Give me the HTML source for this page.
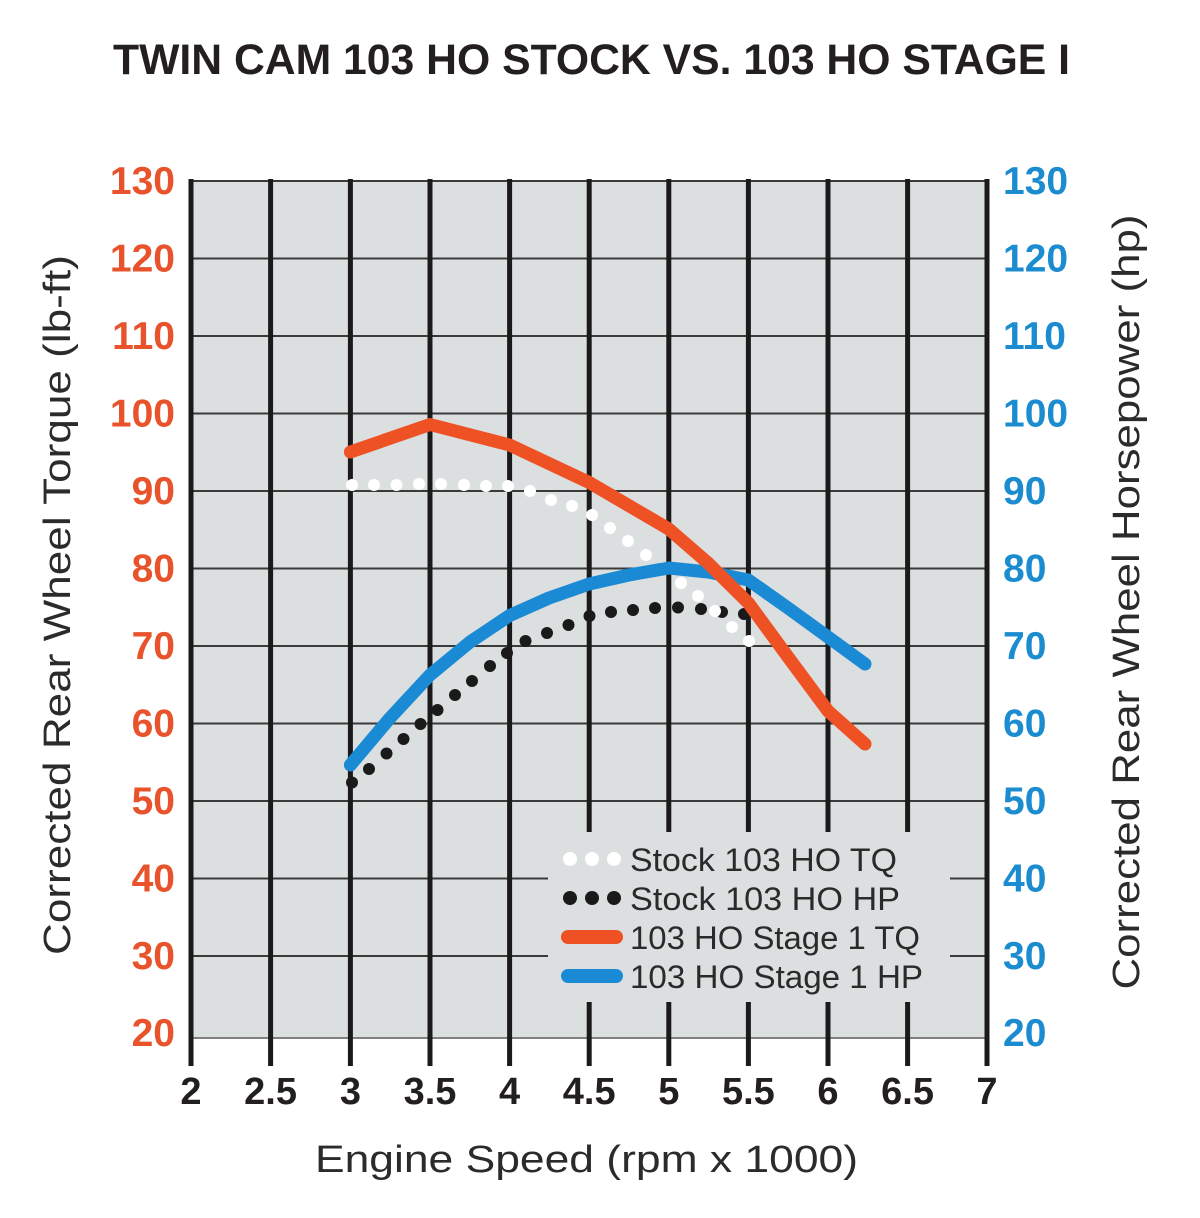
<!DOCTYPE html>
<html>
<head>
<meta charset="utf-8">
<style>
  html, body { margin: 0; padding: 0; background: #ffffff; }
  svg { display: block; }
  text { font-family: "Liberation Sans", "DejaVu Sans", sans-serif; }
</style>
</head>
<body>
<svg width="1200" height="1218" viewBox="0 0 1200 1218" xmlns="http://www.w3.org/2000/svg">
  <rect x="0" y="0" width="1200" height="1218" fill="#ffffff"/>

  <!-- Title -->
  <text x="113" y="74" font-size="43" font-weight="bold" fill="#231f20" textLength="957" lengthAdjust="spacingAndGlyphs">TWIN CAM 103 HO STOCK VS. 103 HO STAGE I</text>

  <!-- Plot background -->
  <rect x="191" y="181" width="796" height="857" fill="#dcdfe0"/>

  <!-- Horizontal grid lines -->
  <g stroke="#3a3a3a" stroke-width="2">
    <line x1="191" y1="181" x2="987" y2="181"/>
    <line x1="191" y1="258.5" x2="987" y2="258.5"/>
    <line x1="191" y1="336" x2="987" y2="336"/>
    <line x1="191" y1="413.5" x2="987" y2="413.5"/>
    <line x1="191" y1="491" x2="987" y2="491"/>
    <line x1="191" y1="568.5" x2="987" y2="568.5"/>
    <line x1="191" y1="646" x2="987" y2="646"/>
    <line x1="191" y1="723.5" x2="987" y2="723.5"/>
    <line x1="191" y1="801" x2="987" y2="801"/>
    <line x1="191" y1="878.5" x2="987" y2="878.5"/>
    <line x1="191" y1="956" x2="987" y2="956"/>
  </g>
  <line x1="191" y1="1038" x2="987" y2="1038" stroke="#808080" stroke-width="2"/>

  <!-- Vertical grid lines -->
  <g stroke="#1a1a1a" stroke-width="5">
    <line x1="191" y1="179" x2="191" y2="1066"/>
    <line x1="270.6" y1="179" x2="270.6" y2="1066"/>
    <line x1="350.4" y1="179" x2="350.4" y2="1066"/>
    <line x1="430" y1="179" x2="430" y2="1066"/>
    <line x1="509.6" y1="179" x2="509.6" y2="1066"/>
    <line x1="589.2" y1="179" x2="589.2" y2="1066"/>
    <line x1="668.8" y1="179" x2="668.8" y2="1066"/>
    <line x1="748.4" y1="179" x2="748.4" y2="1066"/>
    <line x1="828" y1="179" x2="828" y2="1066"/>
    <line x1="907.6" y1="179" x2="907.6" y2="1066"/>
    <line x1="987" y1="179" x2="987" y2="1066"/>
  </g>

  <!-- Legend box (covers grid) -->
  <rect x="548" y="832" width="402" height="170" fill="#dcdfe0"/>

  <!-- Stock HP (black dots) -->
  <g fill="#1a1a1a">
    <circle cx="352" cy="782.5" r="6"/>
    <circle cx="369" cy="769" r="6"/>
    <circle cx="386.5" cy="753.5" r="6"/>
    <circle cx="403.5" cy="739" r="6"/>
    <circle cx="420.5" cy="724" r="6"/>
    <circle cx="437.5" cy="710" r="6"/>
    <circle cx="455" cy="695" r="6"/>
    <circle cx="472" cy="681" r="6"/>
    <circle cx="490" cy="666" r="6"/>
    <circle cx="507" cy="653" r="6"/>
    <circle cx="525.5" cy="641" r="6"/>
    <circle cx="547" cy="633" r="6"/>
    <circle cx="568.5" cy="625" r="6"/>
    <circle cx="589.5" cy="616" r="6"/>
    <circle cx="611" cy="612" r="6"/>
    <circle cx="633" cy="610" r="6"/>
    <circle cx="655" cy="608" r="6"/>
    <circle cx="678" cy="607.5" r="6"/>
    <circle cx="701" cy="609" r="6"/>
    <circle cx="722" cy="612" r="6"/>
    <circle cx="744" cy="614" r="6"/>
  </g>

  <!-- Stock TQ (white dots) -->
  <g fill="#ffffff">
    <circle cx="352" cy="485" r="6"/>
    <circle cx="374" cy="485" r="6"/>
    <circle cx="396.5" cy="485" r="6"/>
    <circle cx="419" cy="484" r="6"/>
    <circle cx="441" cy="484" r="6"/>
    <circle cx="464" cy="485" r="6"/>
    <circle cx="486" cy="486" r="6"/>
    <circle cx="508" cy="486" r="6"/>
    <circle cx="530" cy="491" r="6"/>
    <circle cx="551" cy="500" r="6"/>
    <circle cx="572" cy="506" r="6"/>
    <circle cx="592" cy="515" r="6"/>
    <circle cx="610" cy="528" r="6"/>
    <circle cx="628" cy="541" r="6"/>
    <circle cx="646" cy="555" r="6"/>
    <circle cx="663" cy="568" r="6"/>
    <circle cx="681" cy="583" r="6"/>
    <circle cx="698" cy="596" r="6"/>
    <circle cx="715" cy="611" r="6"/>
    <circle cx="732" cy="627" r="6"/>
    <circle cx="749" cy="641" r="6"/>
  </g>

  <!-- Stage 1 HP (blue) -->
  <polyline fill="none" stroke="#1a8ad4" stroke-width="13" stroke-linecap="round" stroke-linejoin="round"
    points="350.4,765 390,718 430,675 470,642 509.6,615.5 549,598 589.2,584 629,575 668.8,568 708,572 748.4,580 788,608 828,637 865,664"/>

  <!-- Stage 1 TQ (orange) -->
  <polyline fill="none" stroke="#ee5124" stroke-width="13" stroke-linecap="round" stroke-linejoin="round"
    points="350.4,452 430,424.5 509.6,445 589.2,482.5 668.8,529 708,563 748.4,603 788,657 828,711 865,744"/>

  <!-- Legend -->
  <g fill="#ffffff">
    <circle cx="570" cy="859" r="7"/>
    <circle cx="592" cy="859" r="7"/>
    <circle cx="614" cy="859" r="7"/>
  </g>
  <g fill="#1a1a1a">
    <circle cx="570" cy="898" r="7"/>
    <circle cx="592" cy="898" r="7"/>
    <circle cx="614" cy="898" r="7"/>
  </g>
  <line x1="568" y1="937" x2="616" y2="937" stroke="#ee5124" stroke-width="14" stroke-linecap="round"/>
  <line x1="568" y1="976" x2="616" y2="976" stroke="#1a8ad4" stroke-width="14" stroke-linecap="round"/>
  <g font-size="32" fill="#2a2a2a">
    <text x="630" y="871" textLength="267" lengthAdjust="spacingAndGlyphs">Stock 103 HO TQ</text>
    <text x="630" y="910" textLength="270" lengthAdjust="spacingAndGlyphs">Stock 103 HO HP</text>
    <text x="630" y="949" textLength="290" lengthAdjust="spacingAndGlyphs">103 HO Stage 1 TQ</text>
    <text x="630" y="988" textLength="293" lengthAdjust="spacingAndGlyphs">103 HO Stage 1 HP</text>
  </g>

  <!-- Left axis labels -->
  <g font-size="39" font-weight="bold" fill="#e8532b" text-anchor="end">
    <text x="175" y="194">130</text>
    <text x="175" y="271.5">120</text>
    <text x="175" y="349">110</text>
    <text x="175" y="426.5">100</text>
    <text x="175" y="504">90</text>
    <text x="175" y="581.5">80</text>
    <text x="175" y="659">70</text>
    <text x="175" y="736.5">60</text>
    <text x="175" y="814">50</text>
    <text x="175" y="891.5">40</text>
    <text x="175" y="969">30</text>
    <text x="175" y="1046">20</text>
  </g>

  <!-- Right axis labels -->
  <g font-size="39" font-weight="bold" fill="#1b8ccf" text-anchor="start">
    <text x="1003" y="194">130</text>
    <text x="1003" y="271.5">120</text>
    <text x="1003" y="349">110</text>
    <text x="1003" y="426.5">100</text>
    <text x="1003" y="504">90</text>
    <text x="1003" y="581.5">80</text>
    <text x="1003" y="659">70</text>
    <text x="1003" y="736.5">60</text>
    <text x="1003" y="814">50</text>
    <text x="1003" y="891.5">40</text>
    <text x="1003" y="969">30</text>
    <text x="1003" y="1046">20</text>
  </g>

  <!-- X axis labels -->
  <g font-size="38" font-weight="bold" fill="#231f20" text-anchor="middle">
    <text x="191" y="1104">2</text>
    <text x="270.6" y="1104">2.5</text>
    <text x="350.4" y="1104">3</text>
    <text x="430" y="1104">3.5</text>
    <text x="509.6" y="1104">4</text>
    <text x="589.2" y="1104">4.5</text>
    <text x="668.8" y="1104">5</text>
    <text x="748.4" y="1104">5.5</text>
    <text x="828" y="1104">6</text>
    <text x="907.6" y="1104">6.5</text>
    <text x="987" y="1104">7</text>
  </g>

  <!-- Axis titles -->
  <text x="586.5" y="1172" font-size="38" fill="#2b2b2b" text-anchor="middle" textLength="543" lengthAdjust="spacingAndGlyphs">Engine Speed (rpm x 1000)</text>
  <text transform="translate(70,605) rotate(-90)" x="0" y="0" font-size="38" fill="#2b2b2b" text-anchor="middle" textLength="700" lengthAdjust="spacingAndGlyphs">Corrected Rear Wheel Torque (lb-ft)</text>
  <text transform="translate(1139,602) rotate(-90)" x="0" y="0" font-size="38" fill="#2b2b2b" text-anchor="middle" textLength="775" lengthAdjust="spacingAndGlyphs">Corrected Rear Wheel Horsepower (hp)</text>
</svg>
</body>
</html>
